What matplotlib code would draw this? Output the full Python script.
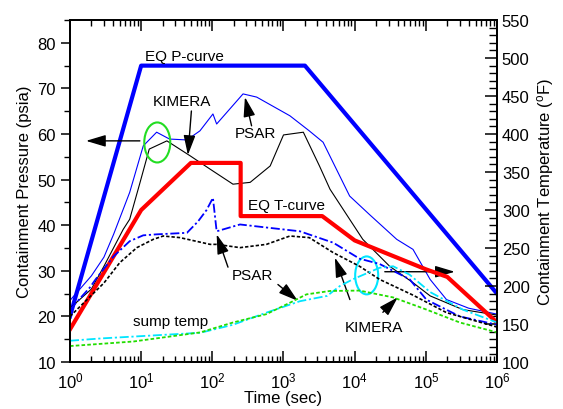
import numpy as np
import matplotlib
matplotlib.use("Agg")
import matplotlib.pyplot as plt
from matplotlib.patches import Ellipse
from matplotlib.ticker import MultipleLocator, FixedLocator, NullFormatter

plt.rcParams['font.family'] = ['Liberation Sans', 'DejaVu Sans']
plt.rcParams['mathtext.default'] = 'regular'

# --- data (time in sec) ---
eq_p_t = [1, 10, 2000, 1e6]
eq_p = [20, 75, 75, 25]

eq_t_t = [1, 10, 50, 250, 250, 3500, 1e4, 1e5, 2e5, 1e6]
eq_t = [143, 300, 362, 362, 292, 292, 260, 222, 212, 152]

psar_p_t = [1, 2, 3, 4.1, 6.9, 10.7, 16.5, 25, 44, 67, 102, 115, 270, 420,
            1230, 2300, 3600, 8500, 16000, 39000, 66000, 115000, 195000, 4e5, 1e6]
psar_p = [23.5, 28.9, 33, 38, 47.2, 57.4, 60.4, 58.9, 58.7, 60.7, 64.4, 62.2, 68.8, 68.1,
          64.0, 60.7, 58.2, 46.4, 42.4, 36.9, 34.7, 28.1, 23.7, 21.8, 20.5]

kim_p_t = [1, 2, 3, 5.6, 6.9, 9.5, 13, 23, 49, 93, 195, 340, 650, 1000, 1900,
           3200, 4500, 8500, 13000, 31000, 66000, 115000, 330000, 1e6]
kim_p = [21.8, 26, 31, 39.1, 41.3, 49, 56.7, 58.5, 55.2, 52.3, 49.0, 49.4, 53.0, 59.8, 60.4,
         53.0, 47.9, 41.3, 36.9, 31, 27.4, 24.5, 21.5, 20.3]

psar_T_t = [1, 1.9, 2.3, 4.1, 6.9, 10.7, 16.5, 44, 63, 83, 102, 115, 245, 575,
            1700, 5000, 11700, 22400, 59000, 102000, 300000, 1e6]
psar_T = [169, 198, 209, 239, 259, 266.7, 268, 270, 285, 300, 316, 272, 281, 277,
          272, 257, 236, 229, 209, 182, 160, 149]

kim_T_t = [1, 3, 5, 8.7, 14.8, 20.4, 35, 93, 115, 245, 575, 1230, 2300, 5000,
           11700, 22400, 66000, 195000, 1e6]
kim_T = [160, 204, 230.7, 250.5, 261.4, 265.8, 263.7, 254.8, 254.8, 250.5, 254.8, 265.8, 263.7,
         243.9, 226, 208.7, 188, 165, 146]

sump_psar_t = [1, 2.7, 23, 68, 195, 575, 1700, 4100, 6200, 9500, 22400, 34700, 59000,
               115000, 330000, 1e6]
sump_psar = [128, 131, 136, 138.5, 149, 165, 180, 187, 200, 209, 224, 226, 215, 192, 169, 152]

sump_kim_t = [1, 7.8, 68, 195, 575, 1230, 2100, 4500, 11700, 34700, 102000, 300000, 1e6]
sump_kim = [121, 127, 139, 152, 163, 178, 189, 193.5, 194, 185, 169, 152, 139]

x_major = [1, 10, 100, 1e3, 1e4, 1e5, 1e6]

fig = plt.figure(figsize=(5.63, 4.10), dpi=100)
ax = fig.add_axes([0.1243, 0.1146, 0.7585, 0.8341])
ax2 = ax.twinx()

# pressure curves (left axis)
ax.plot(eq_p_t, eq_p, color='#0000ff', lw=3.0)
ax.plot(psar_p_t, psar_p, color='#0000ff', lw=0.8)
ax.plot(kim_p_t, kim_p, color='black', lw=0.8)

# temperature curves (right axis)
ax2.plot(eq_t_t, eq_t, color='#ff0000', lw=3.0)
ax2.plot(psar_T_t, psar_T, color='#0000ff', lw=1.3, dashes=(5, 1.5, 1.2, 1.5))
ax2.plot(kim_T_t, kim_T, color='black', lw=1.2, dashes=(2, 1.2))
ax2.plot(sump_psar_t, sump_psar, color='#00e5ff', lw=1.3, dashes=(5, 1.5, 1.2, 1.5))
ax2.plot(sump_kim_t, sump_kim, color='#22dd00', lw=1.3, dashes=(2, 1.2))

ax.set_xscale('log')
ax.set_xlim(1, 1e6)
ax.set_ylim(10, 85)
ax2.set_ylim(100, 550)

ax.yaxis.set_major_locator(MultipleLocator(10))
ax.yaxis.set_minor_locator(MultipleLocator(5))
ax2.yaxis.set_major_locator(MultipleLocator(50))
ax2.yaxis.set_minor_locator(MultipleLocator(10))
ax.xaxis.set_major_locator(FixedLocator(x_major))
ax.xaxis.set_minor_locator(FixedLocator([d * k for d in x_major[:-1] for k in range(2, 10)]))
ax.xaxis.set_minor_formatter(NullFormatter())

ax.tick_params(axis='x', which='both', direction='in', top=True, labelsize=12, pad=6)
ax.tick_params(axis='x', which='major', length=8, width=1.1)
ax.tick_params(axis='x', which='minor', length=4.5, width=1.0)
ax.tick_params(axis='y', which='major', direction='out', length=6.5, width=1.1, labelsize=12)
ax.tick_params(axis='y', which='minor', direction='out', length=4.3, width=1.0)
ax2.tick_params(axis='y', which='major', direction='in', length=8.4, width=1.1, labelsize=12)
ax2.tick_params(axis='y', which='minor', direction='in', length=5.5, width=1.0)

for a in (ax, ax2):
    for s in a.spines.values():
        s.set_linewidth(1.3)

ax.set_xlabel('Time (sec)', fontsize=12, labelpad=0)
ax.set_ylabel('Containment Pressure (psia)', fontsize=12, labelpad=4)
ax2.set_ylabel('Containment Temperature ($^o$F)', fontsize=12, labelpad=4)

# labels and arrows (left-axis data coords)
fs = 11
ax.text(11.3, 77.1, 'EQ P-curve', fontsize=fs, va='center', ha='left')
ax.text(14.6, 67.3, 'KIMERA', fontsize=fs, va='center', ha='left')
ax.text(207, 60.2, 'PSAR', fontsize=fs, va='center', ha='left')
ax.text(316, 44.4, 'EQ T-curve', fontsize=fs, va='center', ha='left')
ax.text(188, 29.0, 'PSAR', fontsize=fs, va='center', ha='left')
ax.text(7.7, 18.9, 'sump temp', fontsize=fs, va='center', ha='left')
ax.text(7280, 17.6, 'KIMERA', fontsize=fs, va='center', ha='left')

arrow = dict(arrowstyle='-|>,head_length=1.2,head_width=0.36', color='black', lw=1.0,
             mutation_scale=10, shrinkA=0, shrinkB=0)
ax.annotate('', xy=(45.4, 55.4), xytext=(50.8, 65.05), arrowprops=arrow)
ax.annotate('', xy=(287, 68.1), xytext=(356, 61.8), arrowprops=arrow)
ax.annotate('', xy=(1.68, 58.5), xytext=(9.6, 58.5), arrowprops=arrow)
ax.annotate('', xy=(255000, 29.8), xytext=(26500, 29.8), arrowprops=arrow)
ax.annotate('', xy=(115, 38.0), xytext=(166, 30.8), arrowprops=arrow)
ax.annotate('', xy=(1592, 23.4), xytext=(835, 27.0), arrowprops=arrow)
ax.annotate('', xy=(5270, 32.9), xytext=(8570, 23.7), arrowprops=arrow)
ax.annotate('', xy=(40400, 24.2), xytext=(24900, 20.9), arrowprops=arrow)

ax.add_patch(Ellipse((0.2044, 0.642), 0.0609, 0.117, transform=ax.transAxes,
                     fill=False, edgecolor='#22dd22', lw=1.5, zorder=5))
ax.add_patch(Ellipse((0.6948, 0.2533), 0.0539, 0.111, transform=ax.transAxes,
                     fill=False, edgecolor='#00e5ff', lw=1.5, zorder=5))

fig.savefig('out.png', dpi=100)
